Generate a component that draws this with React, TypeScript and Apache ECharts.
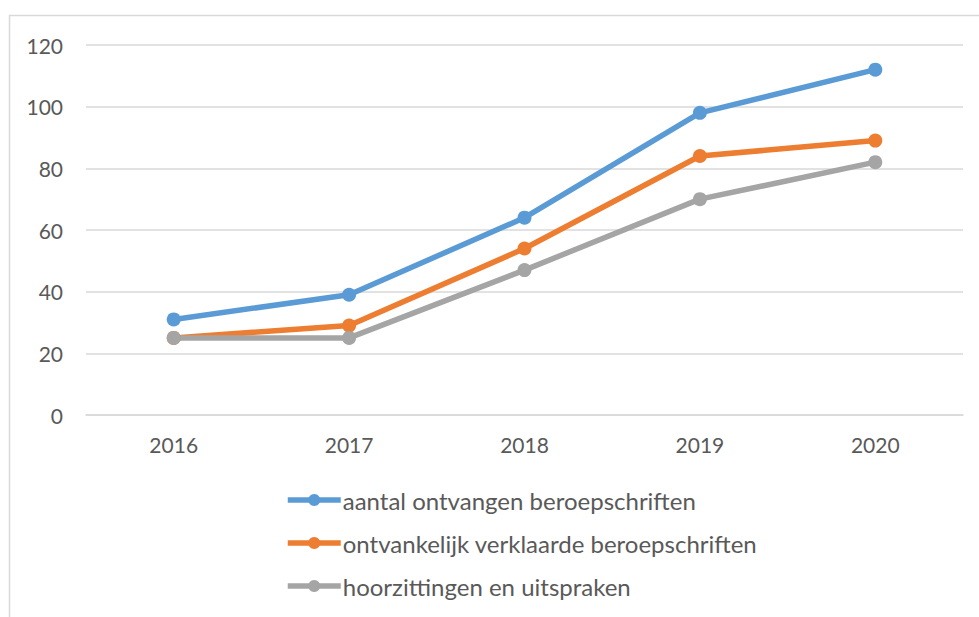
import React, { useEffect, useRef } from "react";
import * as echarts from "echarts";

const categories = ["2016", "2017", "2018", "2019", "2020"];
const ontvangen = [31, 39, 64, 98, 112];
const ontvankelijk = [25, 29, 54, 84, 89];
const hoorzittingen = [25, 25, 47, 70, 82];
const seriesNames = [
  "aantal ontvangen beroepschriften",
  "ontvankelijk verklaarde beroepschriften",
  "hoorzittingen en uitspraken",
];
const colors = ["#5B9BD5", "#ED7D31", "#A5A5A5"];

export default function App() {
  const ref = useRef<HTMLDivElement>(null);
  useEffect(() => {
    if (!ref.current) return;
    const chart = echarts.init(ref.current, undefined, { renderer: "svg" });
    const font = "Lato, 'Open Sans', sans-serif";
    const mk = (name: string, data: number[], color: string) => ({
      name,
      type: "line",
      data,
      symbol: "circle",
      symbolSize: 14,
      lineStyle: { width: 5.5, color },
      itemStyle: { color },
      emphasis: { disabled: true },
    });
    chart.setOption({
      animation: false,
      backgroundColor: "#ffffff",
      textStyle: { fontFamily: font },
      graphic: [
        {
          type: "rect",
          shape: { x: 9.5, y: 15.5, width: 1000, height: 700 },
          style: { fill: "none", stroke: "#d9d9d9", lineWidth: 1.5 },
          silent: true,
        },
      ],
      grid: { left: 86, right: 16, top: 45, bottom: 202 },
      xAxis: {
        type: "category",
        data: categories,
        boundaryGap: true,
        axisLine: { show: true, lineStyle: { color: "#d9d9d9", width: 1.5 } },
        axisTick: { show: false },
        axisLabel: { color: "#595959", fontSize: 21, margin: 19, fontFamily: font },
        splitLine: { show: false },
      },
      yAxis: {
        type: "value",
        min: 0,
        max: 120,
        interval: 20,
        axisLine: { show: false },
        axisTick: { show: false },
        axisLabel: { color: "#595959", fontSize: 21, margin: 23, fontFamily: font },
        splitLine: { lineStyle: { color: "#d9d9d9", width: 1.5 } },
      },
      legend: {
        orient: "vertical",
        left: 280,
        top: 483,
        itemWidth: 53,
        itemHeight: 15,
        itemGap: 19,
        lineStyle: { width: 5.5 },
        textStyle: { color: "#595959", fontSize: 24, fontFamily: font, padding: [0, 0, 0, -3] },
        data: seriesNames,
      },
      series: [
        mk(seriesNames[0], ontvangen, colors[0]),
        mk(seriesNames[1], ontvankelijk, colors[1]),
        mk(seriesNames[2], hoorzittingen, colors[2]),
      ],
    });
    return () => chart.dispose();
  }, []);
  return (
    <div
      ref={ref}
      style={{ position: "absolute", left: 0, top: 0, width: 979, height: 617 }}
    />
  );
}
